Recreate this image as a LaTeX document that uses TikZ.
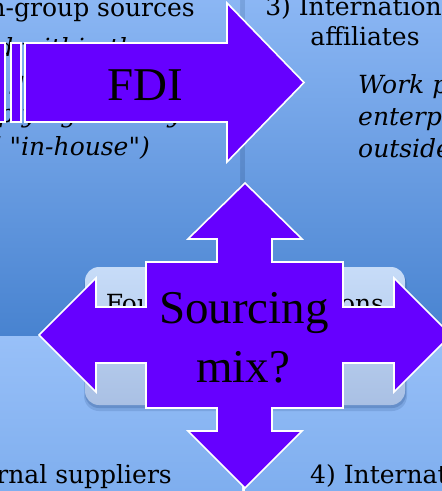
\documentclass[tikz,border=0pt]{standalone}
\usepackage{fontspec}
\setmainfont{DejaVu Serif}
\newfontfamily\panelfont{DejaVu Serif}
\newfontfamily\arrowfont{Liberation Serif}
\definecolor{arrowpurple}{HTML}{6600FF}
\definecolor{toptop}{HTML}{8DB8F5}
\definecolor{topbot}{HTML}{4883D0}
\definecolor{bottop}{HTML}{98C0F8}
\definecolor{botbot}{HTML}{7DADEE}
\definecolor{gaptop}{HTML}{7AA4DE}
\definecolor{gapbot}{HTML}{3C70B8}
\definecolor{recttop}{HTML}{C7DCF8}
\definecolor{rectbot}{HTML}{A9C0E4}
\definecolor{shadowcol}{HTML}{2A4F8A}
\begin{document}
\begin{tikzpicture}[x=1pt,y=-1pt,
  bgtext/.style={font=\panelfont\fontsize{25}{30}\selectfont, inner sep=0pt, text=black},
  bgital/.style={font=\panelfont\fontsize{25}{30}\selectfont\itshape, inner sep=0pt, text=black},
  bigtext/.style={font=\arrowfont\fontsize{47}{50}\selectfont, inner sep=0pt, text=black},
  purplearrow/.style={fill=arrowpurple, draw=white, line width=1.6pt, line join=miter}]
\useasboundingbox (0,0) rectangle (442,491);
\clip (0,0) rectangle (442,491);
% background gaps
\shade[top color=gaptop, bottom color=gapbot] (-10,-10) rectangle (452,336);
\fill[bottop!80!gray] (-10,335) rectangle (452,337);
% panels
\shade[top color=toptop, bottom color=topbot] (-10,-10) rectangle (240,335);
\shade[top color=toptop, bottom color=topbot] (245,-10) rectangle (452,335);
\shade[top color=bottop, bottom color=botbot] (-10,336) rectangle (242,501);
\shade[top color=bottop, bottom color=botbot] (245,336) rectangle (452,501);
% panel texts
\node[bgtext, anchor=base east] (h1) at (195,16) {1) Domestic in-group sources};
\node[bgital, anchor=base east] (t1a) at (150,56) {Work performed within the};
\node[bgital, anchor=base east] (t1b) at (165,89) {enterprise group in the};
\node[bgital, anchor=base east] (t1c) at (182,122) {supplying country};
\node[bgital, anchor=base east] (t1d) at (150,155) {(so-called "in-house")};
\node[bgtext, anchor=base] (h3) at (365,15) {3) International};
\node[bgtext, anchor=base] (h3b) at (365,45) {affiliates};
\node[bgital, anchor=base west] (t3a) at (358,93) {Work performed by};
\node[bgital, anchor=base west] (t3b) at (358,125) {enterprises of the group};
\node[bgital, anchor=base west] (t3c) at (358,157) {outside the sourcing country};
\node[bgtext, anchor=base east] (h2) at (172,483) {2) Domestic external suppliers};
\node[bgtext, anchor=base west] (h4) at (310,483) {4) International external suppliers};
% central rounded rectangle with shadow
\fill[shadowcol, opacity=0.18, rounded corners=15pt] (84,270) rectangle (407,411);
\fill[shadowcol, opacity=0.25, rounded corners=14pt] (85,269) rectangle (406,408);
\shade[top color=recttop, bottom color=rectbot, rounded corners=14pt] (85,267) rectangle (405,405);
\node[bgtext, anchor=base] (t0) at (245,312) {Four sourcing options};
% FDI striped arrow
\path[purplearrow] (-3,43) rectangle (5,122);
\path[purplearrow] (11,43) rectangle (21,122);
\path[purplearrow] (25,43) -- (227,43) -- (227,3) -- (304,82.5) -- (227,162) -- (227,122) -- (25,122) -- cycle;
\node[bigtext, anchor=base] (fdi) at (145,100) {FDI};
% quad arrow
\path[purplearrow] (245,183) -- (302,239) -- (272,239) -- (272,262) -- (343,262) -- (343,307)
  -- (394,307) -- (394,278) -- (451,335) -- (394,392) -- (394,363) -- (343,363) -- (343,408)
  -- (272,408) -- (272,431) -- (302,431) -- (245,488) -- (188,431) -- (217,431) -- (217,408)
  -- (146,408) -- (146,363) -- (96,363) -- (96,392) -- (39,335) -- (96,278) -- (96,307)
  -- (146,307) -- (146,262) -- (217,262) -- (217,239) -- (188,239) -- cycle;
\node[bigtext, anchor=base] (s1) at (244,323) {Sourcing};
\node[bigtext, anchor=base] (s2) at (243,382) {mix?};
\end{tikzpicture}
\end{document}
